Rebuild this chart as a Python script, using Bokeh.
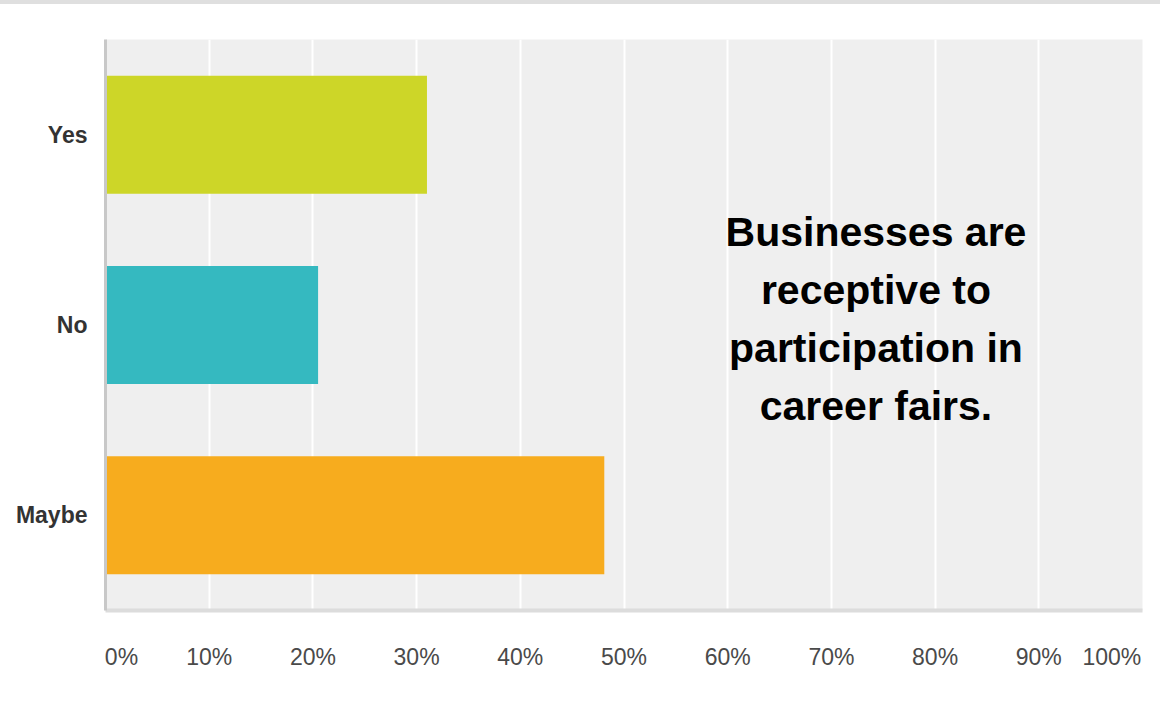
from bokeh.plotting import figure
from bokeh.models import FactorRange, Range1d, FixedTicker
from bokeh.embed import file_html
from bokeh.resources import INLINE
from bokeh.core.properties import value

categories = ["Yes", "No", "Maybe"]
percentages = [31.0, 20.5, 48.1]
bar_colors = ["#cdd628", "#35b9c0", "#f7ac1e"]
tick_values = [0, 10, 20, 30, 40, 50, 60, 70, 80, 90, 100]
tick_labels = ["0%", "10%", "20%", "30%", "40%", "50%", "60%", "70%", "80%", "90%", "100%"]
note_text = "Businesses are\nreceptive to\nparticipation in\ncareer fairs."

FONT = "Liberation Sans"
NBSP = "\u00a0"

p = figure(
    y_range=FactorRange(factors=list(reversed(categories)), range_padding=0),
    x_range=Range1d(0, 100),
    frame_width=1037, frame_height=571,
    min_border_left=105, min_border_right=18, min_border_top=35, min_border_bottom=95,
    output_backend="svg", toolbar_location=None,
    background_fill_color="#efefef", border_fill_color="white",
)
p.styles = {"border-top": "4px solid #dfdfdf"}
p.outline_line_color = None

p.hbar(y=categories, right=percentages, left=0, height=0.62,
       fill_color=bar_colors, line_color=None)

# grid
p.ygrid.grid_line_color = None
p.xgrid.grid_line_color = "white"
p.xgrid.grid_line_width = 2
p.xgrid.ticker = FixedTicker(ticks=tick_values)

# x axis (edge labels padded so they stay inside the frame span, as in the original)
xa = p.xaxis[0]
xa.ticker = FixedTicker(ticks=tick_values)
overrides = {v: lab for v, lab in zip(tick_values, tick_labels)}
overrides[tick_values[0]] = NBSP * 5 + tick_labels[0]
overrides[tick_values[-1]] = tick_labels[-1] + NBSP * 3
xa.major_label_overrides = overrides
xa.axis_line_color = "#dcdcdc"
xa.axis_line_width = 4
xa.major_tick_line_color = None
xa.minor_tick_line_color = None
xa.major_tick_out = 0
xa.major_tick_in = 0
xa.major_label_standoff = 33
xa.major_label_text_font = FONT
xa.major_label_text_font_size = "23px"
xa.major_label_text_color = "#4a4a4a"

# y axis
ya = p.yaxis[0]
ya.axis_line_color = "#c8c8c8"
ya.axis_line_width = 3
ya.major_tick_line_color = None
ya.minor_tick_line_color = None
ya.major_tick_out = 0
ya.major_tick_in = 0
ya.major_label_standoff = 18
ya.major_label_text_font = FONT
ya.major_label_text_font_size = "23px"
ya.major_label_text_font_style = "bold"
ya.major_label_text_color = "#333333"

# annotation text
p.text(x=[74.3], y=[1.53], text=[note_text], text_align="center", text_baseline="middle",
       text_font=value(FONT), text_font_size="41px", text_font_style="bold",
       text_color="black", text_line_height=1.26)

open("out.html", "w").write(file_html(p, INLINE))
